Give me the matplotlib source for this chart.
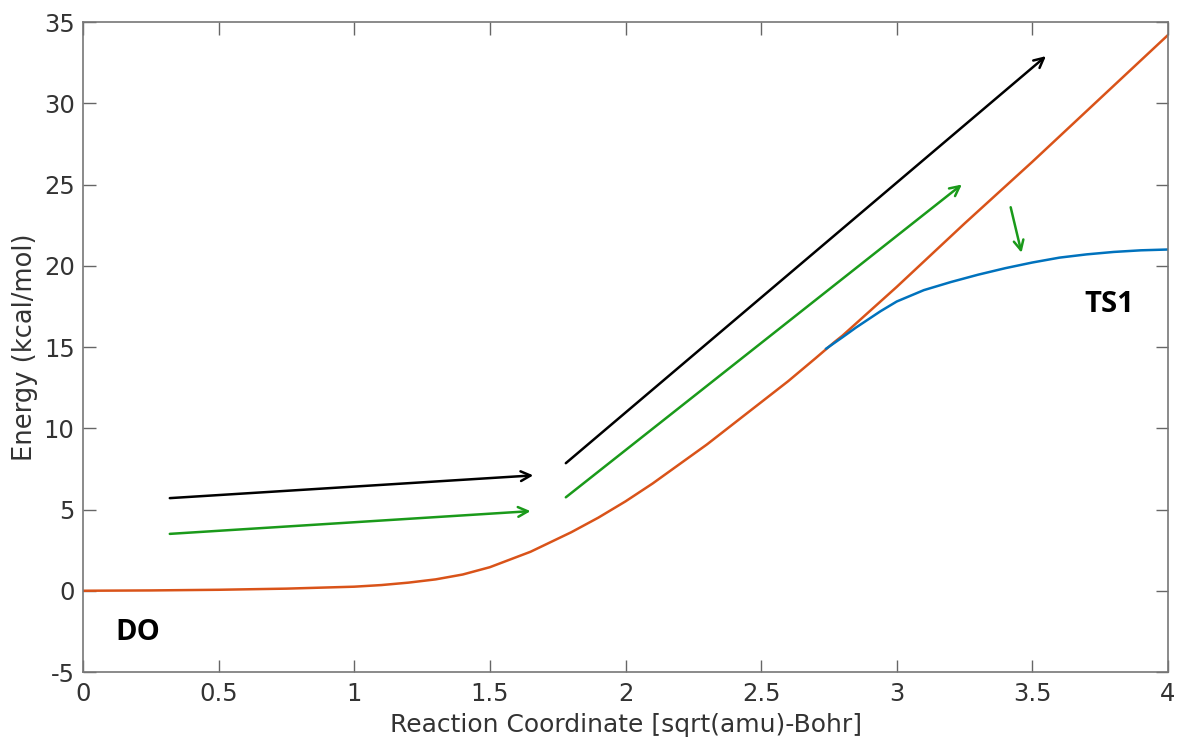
import matplotlib.pyplot as plt

plt.rcParams['axes.unicode_minus'] = False

# orange curve
x_orange = [0.0, 0.25, 0.5, 0.75, 1.0, 1.1, 1.2, 1.3, 1.4, 1.5, 1.65, 1.8, 1.9, 2.0, 2.1,
            2.2, 2.3, 2.4, 2.5, 2.6, 2.7, 2.77, 2.8, 3.0, 3.25, 3.5, 3.75, 4.0]
y_orange = [0.0, 0.02, 0.06, 0.13, 0.25, 0.35, 0.5, 0.7, 1.0, 1.45, 2.4, 3.6, 4.5, 5.5, 6.6,
            7.8, 9.0, 10.3, 11.6, 12.9, 14.3, 15.3, 15.7, 18.7, 22.6, 26.4, 30.3, 34.2]

# blue curve (towards TS1)
x_blue = [2.74, 2.8, 2.85, 2.94, 3.0, 3.1, 3.2, 3.3, 3.4, 3.5, 3.6, 3.7, 3.8, 3.9, 4.0]
y_blue = [14.9, 15.6, 16.2, 17.2, 17.8, 18.5, 19.0, 19.45, 19.85, 20.2, 20.5, 20.7, 20.85, 20.95, 21.0]

# arrows: (x_start, y_start, x_end, y_end)
black_arrows = [(0.32, 5.7, 1.66, 7.1), (1.78, 7.85, 3.55, 32.9)]
green_arrows = [(0.32, 3.5, 1.65, 4.9), (1.78, 5.75, 3.24, 25.0), (3.42, 23.6, 3.46, 20.8)]

fig = plt.figure(figsize=(11.77, 7.40), dpi=100)
ax = fig.add_axes([83 / 1177, 1 - 672 / 740, (1168 - 83) / 1177, (672 - 22) / 740])

ax.plot(x_orange, y_orange, color='#D95319', lw=1.8)
ax.plot(x_blue, y_blue, color='#0072BD', lw=1.8)

for x0, y0, x1, y1 in black_arrows:
    ax.annotate('', xy=(x1, y1), xytext=(x0, y0),
                arrowprops=dict(arrowstyle='->,head_length=0.7,head_width=0.35',
                                color='black', lw=1.8, shrinkA=0, shrinkB=0))
for x0, y0, x1, y1 in green_arrows:
    ax.annotate('', xy=(x1, y1), xytext=(x0, y0),
                arrowprops=dict(arrowstyle='->,head_length=0.7,head_width=0.35',
                                color='#1a9a1a', lw=1.8, shrinkA=0, shrinkB=0))

ax.text(0.118, -2.6, 'DO', fontsize=21, fontweight='bold', family='Open Sans',
        ha='left', va='center', color='black')
ax.text(3.69, 17.6, 'TS1', fontsize=21, fontweight='bold', family='Open Sans',
        ha='left', va='center', color='black')

ax.set_xlim(0, 4)
ax.set_ylim(-5, 35)
ax.set_xticks([0, 0.5, 1, 1.5, 2, 2.5, 3, 3.5, 4])
ax.set_xticklabels(['0', '0.5', '1', '1.5', '2', '2.5', '3', '3.5', '4'])
ax.set_yticks(range(-5, 36, 5))
ax.tick_params(direction='in', top=True, right=True, length=9, width=1,
               colors='#666666', labelsize=17.5, labelcolor='#333333')
ax.tick_params(axis='x', pad=7)
ax.tick_params(axis='y', pad=6)
for s in ax.spines.values():
    s.set_color('#777777')
    s.set_linewidth(1.2)

ax.set_xlabel('Reaction Coordinate [sqrt(amu)-Bohr]', fontsize=18, color='#333333', labelpad=5)
ax.set_ylabel('Energy (kcal/mol)', fontsize=18.5, color='#333333', labelpad=4)

fig.savefig('out.png', dpi=100)
